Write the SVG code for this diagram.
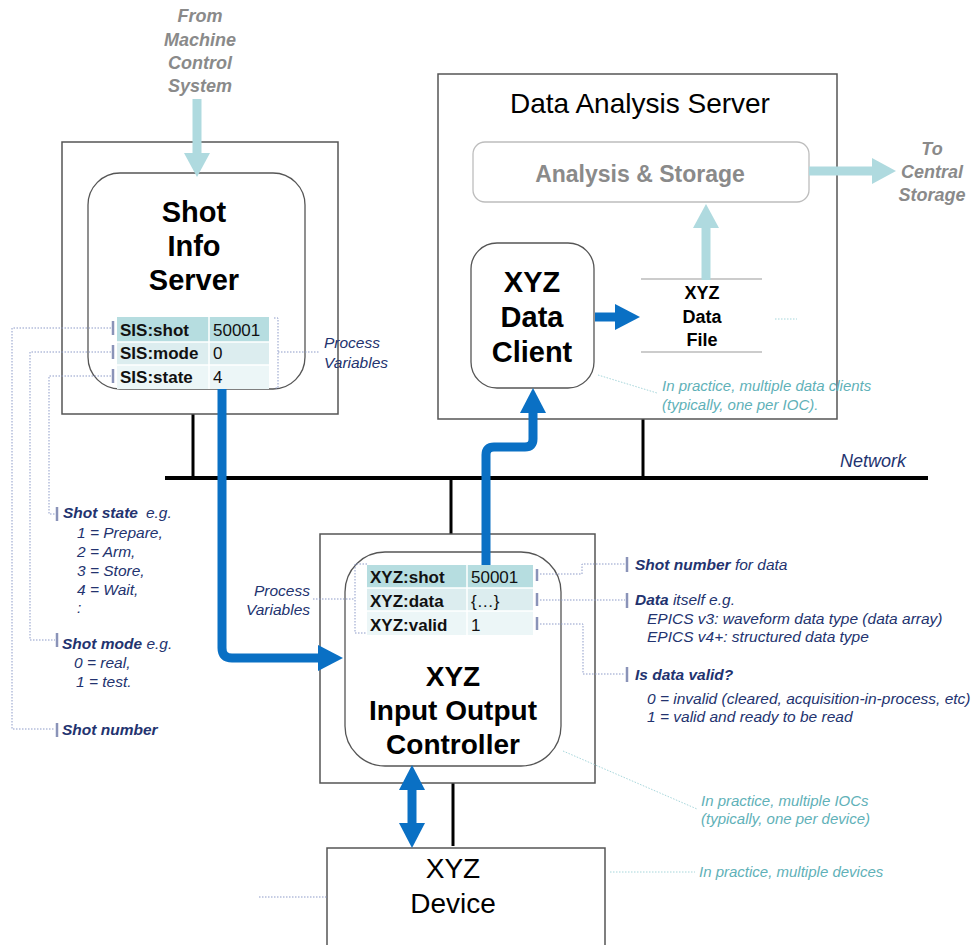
<svg xmlns="http://www.w3.org/2000/svg" width="976" height="945" viewBox="0 0 976 945">
<style>
text{font-family:"Liberation Sans",Arial,sans-serif}
.box{fill:#fff;stroke:#555;stroke-width:1.5}
.rbox{fill:#fff;stroke:#555;stroke-width:1.3}
.net{stroke:#000;stroke-width:4;fill:none}
.drop{stroke:#000;stroke-width:3;fill:none}
.blue{stroke:#0a70c4;stroke-width:9;fill:none;stroke-linejoin:round}
.lt{stroke:#afdadf;stroke-width:9;fill:none}
.dot{stroke:#8d9bc8;stroke-width:1;fill:none;stroke-dasharray:1.5 1.5}
.tdot{stroke:#a6d6db;stroke-width:1;fill:none;stroke-dasharray:1.5 1.5}
.bar{stroke:#8a93b8;stroke-width:2.5}
.title{font-weight:bold;fill:#000;text-anchor:middle}
.pv{font-size:17px;font-weight:bold;fill:#111}
.val{font-size:17px;fill:#111}
.nav{font-size:15.5px;font-style:italic;fill:#23336f}
.navb{font-weight:bold}
.teal{font-size:15px;font-style:italic;fill:#5fb1b8}
.gray{font-size:18px;font-style:italic;font-weight:bold;fill:#8a8a8a;text-anchor:middle}
</style>
<defs>
<marker id="bh" viewBox="0 0 25 26" markerWidth="25" markerHeight="26" refX="0" refY="13" orient="auto-start-reverse" markerUnits="userSpaceOnUse"><path d="M0,0 L25,13 L0,26 z" fill="#0a70c4"/></marker>
<marker id="lh" viewBox="0 0 24 26" markerWidth="24" markerHeight="26" refX="0" refY="13" orient="auto" markerUnits="userSpaceOnUse"><path d="M0,0 L24,13 L0,26 z" fill="#afdadf"/></marker>
</defs>
<rect width="976" height="945" fill="#fff"/>

<g id="network">
<line class="net" x1="165" y1="478" x2="928" y2="478"/>
<line class="drop" x1="193" y1="414" x2="193" y2="478"/>
<line class="drop" x1="643" y1="419" x2="643" y2="478"/>
<line class="drop" x1="451" y1="478" x2="451" y2="534"/>
<line class="drop" x1="453" y1="783" x2="453" y2="846"/>
<text x="840" y="467" class="nav" style="font-size:18px">Network</text>
</g>

<g id="shot-info-server">
<rect class="box" x="62" y="142" width="276" height="272"/>
<rect class="rbox" x="88" y="173" width="217" height="216" rx="32"/>
<text class="title" x="194" y="222" font-size="29">Shot</text>
<text class="title" x="194" y="256" font-size="29">Info</text>
<text class="title" x="194" y="290" font-size="29">Server</text>
<rect x="117" y="317" width="152" height="25" fill="#b6dde0"/>
<rect x="117" y="342" width="152" height="23" fill="#dcedef"/>
<rect x="117" y="365" width="152" height="24" fill="#ecf6f7"/>
<line x1="117" y1="342" x2="269" y2="342" stroke="#fff" stroke-width="1.5"/>
<line x1="117" y1="365" x2="269" y2="365" stroke="#fff" stroke-width="1.5"/>
<line x1="209" y1="317" x2="209" y2="389" stroke="#fff" stroke-width="1.5"/>
<text class="pv" x="120" y="336">SIS:shot</text><text class="val" x="213" y="336">50001</text>
<text class="pv" x="120" y="359">SIS:mode</text><text class="val" x="213" y="359">0</text>
<text class="pv" x="120" y="383">SIS:state</text><text class="val" x="213" y="383">4</text>
<line class="bar" x1="113" y1="321" x2="113" y2="335"/>
<line class="bar" x1="113" y1="345" x2="113" y2="359"/>
<line class="bar" x1="113" y1="369" x2="113" y2="383"/>
</g>

<g id="data-analysis-server">
<rect class="box" x="438" y="74" width="399" height="345"/>
<text x="640" y="113" text-anchor="middle" font-size="28" fill="#000">Data Analysis Server</text>
</g>

<g id="analysis-storage">
<rect x="473" y="142" width="336" height="60" rx="12" fill="#fff" stroke="#bdbdbd" stroke-width="1.3"/>
<text x="640" y="182" text-anchor="middle" font-size="23" font-weight="bold" fill="#8a8a8a">Analysis &amp; Storage</text>
</g>

<g id="xyz-data-client">
<rect class="rbox" x="471" y="243" width="123" height="145" rx="26"/>
<text class="title" x="532" y="292" font-size="29">XYZ</text>
<text class="title" x="532" y="327" font-size="29">Data</text>
<text class="title" x="532" y="362" font-size="29">Client</text>
</g>

<g id="xyz-data-file">
<line x1="641" y1="279" x2="762" y2="279" stroke="#999" stroke-width="1.2"/>
<line x1="641" y1="352" x2="762" y2="352" stroke="#999" stroke-width="1.2"/>
<text class="title" x="702" y="299" font-size="18">XYZ</text>
<text class="title" x="702" y="323" font-size="18">Data</text>
<text class="title" x="702" y="346" font-size="18">File</text>
</g>

<g id="xyz-ioc">
<rect class="box" x="320" y="534" width="275" height="249"/>
<rect class="rbox" x="345" y="552" width="216" height="214" rx="40"/>
<rect x="367" y="565" width="166" height="23" fill="#b6dde0"/>
<rect x="367" y="588" width="166" height="23" fill="#dcedef"/>
<rect x="367" y="611" width="166" height="24" fill="#ecf6f7"/>
<line x1="367" y1="588" x2="533" y2="588" stroke="#fff" stroke-width="1.5"/>
<line x1="367" y1="611" x2="533" y2="611" stroke="#fff" stroke-width="1.5"/>
<line x1="467" y1="565" x2="467" y2="635" stroke="#fff" stroke-width="1.5"/>
<text class="pv" x="370" y="583">XYZ:shot</text><text class="val" x="471" y="583">50001</text>
<text class="pv" x="370" y="607">XYZ:data</text><text class="val" x="471" y="607">{…}</text>
<text class="pv" x="370" y="631">XYZ:valid</text><text class="val" x="471" y="631">1</text>
<line class="bar" x1="537" y1="569" x2="537" y2="581"/>
<line class="bar" x1="537" y1="593" x2="537" y2="606"/>
<line class="bar" x1="537" y1="617" x2="537" y2="630"/>
<text class="title" x="453" y="686" font-size="28">XYZ</text>
<text class="title" x="453" y="720" font-size="28">Input Output</text>
<text class="title" x="453" y="754" font-size="28">Controller</text>
</g>

<g id="xyz-device">
<rect class="box" x="327" y="848" width="278" height="110"/>
<text x="453" y="878" text-anchor="middle" font-size="28" fill="#000">XYZ</text>
<text x="453" y="913" text-anchor="middle" font-size="28" fill="#000">Device</text>
</g>

<g id="connectors">
<path class="lt" d="M197,99 V153" marker-end="url(#lh)"/>
<path class="lt" d="M706,280 V228" marker-end="url(#lh)"/>
<path class="lt" d="M809,171 H872" marker-end="url(#lh)"/>
<path class="blue" d="M222,389 V648 Q222,658 232,658 H318" marker-end="url(#bh)"/>
<path class="blue" d="M486,565 V455 Q486,447 494,447 H525 Q533,447 533,439 V413" marker-end="url(#bh)"/>
<path class="blue" d="M595,317 H615" marker-end="url(#bh)"/>
<path class="blue" d="M412,790 V823" marker-start="url(#bh)" marker-end="url(#bh)"/>
</g>

<g id="annotations">
<text class="gray" x="200" y="22">From</text>
<text class="gray" x="200" y="46">Machine</text>
<text class="gray" x="200" y="69">Control</text>
<text class="gray" x="200" y="92">System</text>
<text class="gray" x="932" y="155">To</text>
<text class="gray" x="932" y="178">Central</text>
<text class="gray" x="932" y="201">Storage</text>

<path class="dot" d="M274,318 H278 V388 H274 M278,352 H320"/>
<text class="nav" x="324" y="348">Process</text>
<text class="nav" x="324" y="368">Variables</text>

<path class="dot" d="M111,328 H12 V729 H55"/>
<path class="dot" d="M111,352 H30 V640 H55"/>
<path class="dot" d="M111,376 H49 V514 H55"/>
<line class="bar" x1="57" y1="507" x2="57" y2="521"/>
<line class="bar" x1="57" y1="633" x2="57" y2="647"/>
<line class="bar" x1="57" y1="723" x2="57" y2="737"/>
<text class="nav" x="63" y="518"><tspan class="navb">Shot state</tspan><tspan dx="8">e.g.</tspan></text>
<text class="nav" x="77" y="538">1 = Prepare,</text>
<text class="nav" x="77" y="557">2 = Arm,</text>
<text class="nav" x="77" y="576">3 = Store,</text>
<text class="nav" x="77" y="595">4 = Wait,</text>
<text class="nav" x="77" y="613">:</text>
<text class="nav" x="62" y="649"><tspan class="navb">Shot mode</tspan> e.g.</text>
<text class="nav" x="74" y="668">0 = real,</text>
<text class="nav" x="76" y="687">1 = test.</text>
<text class="nav" x="62" y="735"><tspan class="navb">Shot number</tspan></text>

<path class="dot" d="M367,564 H355 V633 H367 M313,599 H355"/>
<text class="nav" x="310" y="596" text-anchor="end">Process</text>
<text class="nav" x="310" y="615" text-anchor="end">Variables</text>

<path class="dot" d="M540,574 H582 V564 H625"/>
<path class="dot" d="M540,600 H625"/>
<path class="dot" d="M540,624 H583 V674 H625"/>
<line class="bar" x1="627" y1="557" x2="627" y2="572"/>
<line class="bar" x1="627" y1="593" x2="627" y2="608"/>
<line class="bar" x1="627" y1="667" x2="627" y2="682"/>
<text class="nav" x="635" y="570"><tspan class="navb">Shot number</tspan> for data</text>
<text class="nav" x="635" y="605"><tspan class="navb">Data</tspan> itself e.g.</text>
<text class="nav" x="647" y="624">EPICS v3: waveform data type (data array)</text>
<text class="nav" x="647" y="642">EPICS v4+: structured data type</text>
<text class="nav" x="635" y="680"><tspan class="navb">Is data valid?</tspan></text>
<text class="nav" x="647" y="704">0 = invalid (cleared, acquisition-in-process, etc)</text>
<text class="nav" x="647" y="722">1 = valid and ready to be read</text>

<line class="tdot" x1="598" y1="375" x2="657" y2="393"/>
<line class="tdot" x1="775" y1="319" x2="797" y2="319"/>
<text class="teal" x="662" y="391">In practice, multiple data clients</text>
<text class="teal" x="662" y="410">(typically, one per IOC).</text>
<line class="tdot" x1="563" y1="751" x2="697" y2="809"/>
<text class="teal" x="701" y="806">In practice, multiple IOCs</text>
<text class="teal" x="701" y="824">(typically, one per device)</text>
<line class="tdot" x1="610" y1="872" x2="695" y2="872"/>
<text class="teal" x="699" y="877">In practice, multiple devices</text>
<line class="dot" x1="259" y1="897" x2="327" y2="897"/>
</g>
</svg>
